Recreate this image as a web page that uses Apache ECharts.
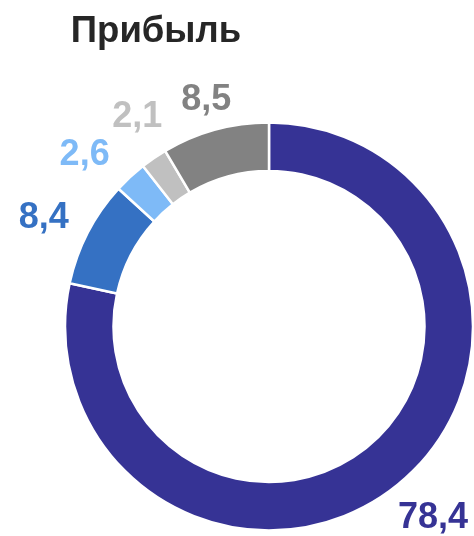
<!DOCTYPE html>
<html>
<head>
<meta charset="utf-8">
<script src="https://cdn.jsdelivr.net/npm/echarts@6/dist/echarts.min.js"></script>
<style>
html,body{margin:0;padding:0;background:#fff;}
#main{width:474px;height:536px;}
</style>
</head>
<body>
<div id="main"></div>
<script>
var title = 'Прибыль';
var categories = ['A', 'B', 'C', 'D', 'E'];
var values = [78.4, 8.4, 2.6, 2.1, 8.5];
var colors = ['#363395', '#3571C3', '#7EBAF7', '#C0C0C0', '#828282'];
// label placement (style): radial distance and angular tweak (deg)
var labelRadius = [252, 250, 251.5, 247.5, 235];
var labelAngleShift = [-1.7, -1.7, -4.3, 2.2, -0.2];

var CX = 269, CY = 326.5, R0 = 155.5, R1 = 204;

var total = values.reduce(function (a, b) { return a + b; }, 0);
function midAngle(i) {
  var s = 0;
  for (var k = 0; k < i; k++) s += values[k];
  return (s + values[i] / 2) / total * 2 * Math.PI + labelAngleShift[i] * Math.PI / 180;
}

var chart = echarts.init(document.getElementById('main'), null, {renderer: 'canvas'});
chart.setOption({
  animation: false,
  title: {
    text: title,
    left: 151, top: 8, textAlign: 'center',
    textStyle: {fontFamily: 'Liberation Sans, Arial, sans-serif', fontWeight: 'bold', fontSize: 36.5, color: '#262626'}
  },
  series: [{
    type: 'pie',
    center: [CX, CY],
    radius: [R0, R1],
    startAngle: 90,
    clockwise: true,
    avoidLabelOverlap: false,
    itemStyle: {borderColor: '#ffffff', borderWidth: 2.5},
    label: {
      show: true,
      position: 'outside',
      formatter: function (p) { return String(p.value).replace('.', ','); },
      fontFamily: 'Liberation Sans, Arial, sans-serif',
      fontWeight: 'bold',
      fontSize: 36
    },
    labelLine: {show: false},
    labelLayout: function (p) {
      var a = midAngle(p.dataIndex);
      var r = labelRadius[p.dataIndex];
      return {
        x: CX + r * Math.sin(a),
        y: CY - r * Math.cos(a),
        align: 'center',
        verticalAlign: 'middle'
      };
    },
    emphasis: {disabled: true},
    data: categories.map(function (c, i) {
      return {
        name: c,
        value: values[i],
        itemStyle: {color: colors[i]},
        label: {color: colors[i]}
      };
    })
  }]
});
</script>
</body>
</html>
